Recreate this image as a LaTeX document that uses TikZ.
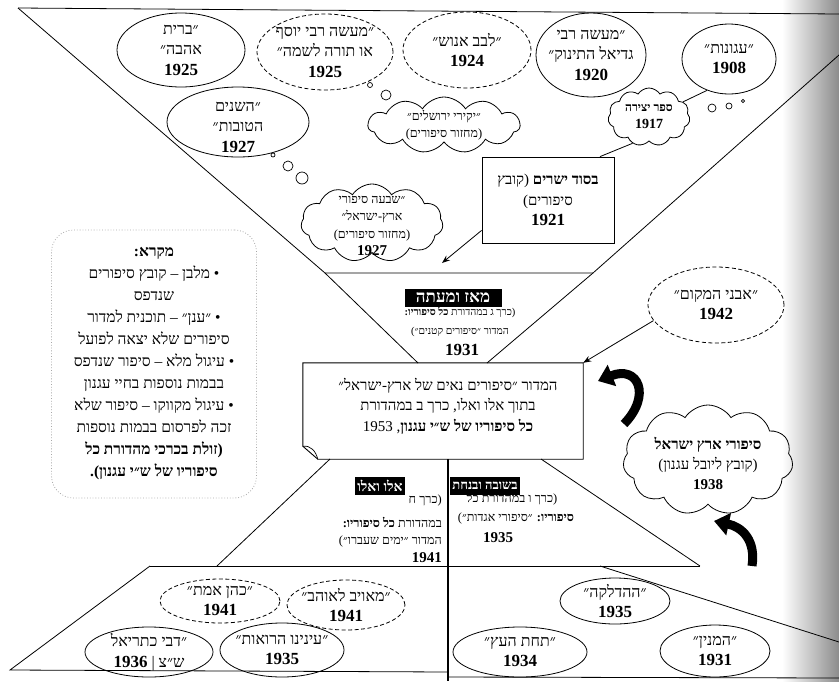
\documentclass[tikz,border=0pt]{standalone}
\usepackage{fontspec}
\setmainfont{Liberation Serif}
\newfontfamily\heb[Script=Hebrew]{Liberation Serif}
\usetikzlibrary{shapes.geometric,shapes.symbols,arrows.meta}
\TeXXeTstate=1
\newcommand\R[1]{\beginR #1\endR}
\newcommand\fs[2]{\fontsize{#1}{#2}\selectfont}
\newcommand\yr[1]{{\bfseries\fontsize{17}{20}\selectfont #1}}
\begin{document}
\begin{tikzpicture}[x=1pt,y=-1pt,
  ln/.style={line width=0.8pt},
  ell/.style={draw, ellipse, line width=0.8pt, inner sep=0},
  dell/.style={ell, dash pattern=on 4pt off 2.5pt},
  cld/.style={draw, cloud, cloud puffs=11, cloud puff arc=115, cloud ignores aspect, line width=0.8pt, inner sep=0},
  txt/.style={font=\heb\fs{16}{20.5}, align=center, inner sep=0},
  sm/.style={font=\heb\fs{12.5}{17.5}, align=center, inner sep=0},
  tiny/.style={font=\heb\fs{10.5}{19}, align=center, inner sep=0},
  mid/.style={font=\heb\fs{12.5}{20}, inner sep=0},
  lab/.style={fill=black, text=white, font=\heb\bfseries\fs{14}{16}, inner sep=0, minimum height=18},
  arr/.style={line width=0.8pt, -{Stealth[length=8pt,width=6pt]}},
  fat/.style={line width=9pt, -{Triangle[length=15pt,width=22pt]}},
  bub/.style={line width=0.7pt}
]
\useasboundingbox (0,0) rectangle (839,681);
\shade[left color=white,right color=black!45] (782,0) rectangle (839,681);

% frame lines
\draw[ln] (18,8) -- (839,14);
\draw[ln] (18,8) -- (325,273) -- (593,273) -- (839,55);
\draw[ln] (325,273) -- (418,363);
\draw[ln] (593,273) -- (487,363);
\draw[ln] (330,459) -- (217,566);
\draw[ln] (541,459) -- (700,566);
\draw[ln] (150,566) -- (700,566);
\draw[ln] (150,566) -- (10,670) -- (448,672);
\draw[ln] (600,566) -- (839,642);
\draw[ln] (448,677) -- (839,678);
\draw[line width=2.5pt] (448,459) -- (448,681);

% top ellipses
\node[ell, minimum width=128, minimum height=74] (brit) at (181,50) {};
\node[txt] (britT) at (brit) {\R{״ברית}\\\R{אהבה״}\\\yr{1925}};
\node[dell, minimum width=136, minimum height=76] (yosef) at (325,52) {};
\node[txt] (yosefT) at (yosef) {\R{״מעשה רבי יוסף}\\\R{או תורה לשמה״}\\\yr{1925}};
\node[dell, minimum width=128, minimum height=76] (levav) at (467,50) {};
\node[txt] (levavT) at (levav) {\R{״לבב אנוש״}\\\yr{1924}};
\node[ell, minimum width=110, minimum height=84] (gadiel) at (591,55) {};
\node[txt] (gadielT) at (gadiel) {\R{״מעשה רבי}\\\R{גדיאל התינוק״}\\\yr{1920}};
\node[ell, minimum width=94, minimum height=70] (agunot) at (729,59) {};
\node[txt] (agunotT) at (agunot) {\R{״עגונות״}\\\yr{1908}};
\node[ell, minimum width=142, minimum height=70] (shanim) at (238,122) {};
\node[txt] (shanimT) at (238,127) {\R{״השנים}\\\R{הטובות״}\\\yr{1927}};

% clouds
\node[cld, minimum width=82, minimum height=58] (yetz) at (649,117) {};
\node[sm, font=\heb\bfseries\fs{12}{17}] (yetzT) at (yetz) {\R{ספר יצירה}\\{\fs{14}{17}1917}};
\node[cld, minimum width=152, minimum height=56] (yakir) at (444,125) {};
\node[sm] (yakirT) at (yakir) {\R{״יקירי ירושלים״}\\\R{(מחזור סיפורים)}};
\node[cld, minimum width=142, minimum height=78] (shiva) at (372,223) {};
\node[sm] (shivaT) at (372,226) {\R{״שבעה סיפורי}\\\R{ארץ-ישראל״}\\\R{(מחזור סיפורים)}\\{\bfseries\fs{15}{17}1927}};

% thought bubbles
\draw[bub] (370,85) circle (2.5);
\draw[bub] (386,95) circle (5);
\draw[bub] (273,155) circle (2);
\draw[bub] (288,166) circle (5);
\draw[bub] (302,178) circle (6);
\draw[bub] (712,108) circle (4);
\draw[bub] (729,106) circle (3);
\draw[bub] (743,101) circle (1.7);

% besod box
\node[draw, line width=0.8pt, minimum width=132, minimum height=86, inner sep=0] (besod) at (548,200) {};
\node[txt, font=\heb\fs{15}{20.5}] (besodT) at (besod) {\R{\textbf{בסוד ישרים} (קובץ}\\\R{סיפורים)}\\\yr{1921}};
\draw[ln] (agunot.235) -- (yetz.24);
\draw[ln] (yetz.238) -- ([xshift=52pt]besod.north);
\coordinate (t1) at (442,263);
\draw[arr] ([yshift=13pt]besod.south west) -- (t1);

% trapezoid
\node[lab, minimum width=97, font=\heb\bfseries\fs{17}{18}] (meaz) at (453,298) {\R{מאז ומעתה}};
\node[tiny] (meazT) at (460,322) {\R{(כרך ג במהדורת \textbf{כל סיפוריו:}}\\\R{המדור ״סיפורים קטנים״)}};
\node[inner sep=0, font=\bfseries\fs{17}{20}] (meazY) at (462,350) {1931};

% central box
\node[minimum width=280, minimum height=96, inner sep=0] (box) at (443,411) {};
\draw[line width=0.9pt] (box.north west) -- (box.north east) -- (box.south east) -- ([xshift=15pt]box.south west) -- ([yshift=13pt]box.south west) -- cycle;
\draw[line width=0.7pt] ([yshift=13pt]box.south west) .. controls ([xshift=8pt,yshift=14pt]box.south west) and ([xshift=13pt,yshift=8pt]box.south west) .. ([xshift=15pt]box.south west);
\node[txt, font=\heb\fs{15}{20.5}] (boxT) at (448,406) {\R{המדור ״סיפורים נאים של ארץ-ישראל״}\\\R{בתוך אלו ואלו, כרך ב במהדורת}\\\R{\textbf{כל סיפוריו של ש״י עגנון}, 1953}};

% avne hamakom
\node[dell, minimum width=136, minimum height=76] (avne) at (716,305) {};
\node[txt] (avneT) at (avne) {\R{״אבני המקום״}\\\yr{1942}};
\draw[arr] (avne.194) -- (box.north east);

% fat arrows
\draw[fat] (624,424) .. controls (652,395) and (638,365) .. (598,381);
\draw[fat] (752,566) .. controls (756,540) and (742,527) .. (714,521);

% cloud 1938
\node[cld, minimum width=170, minimum height=110] (yovel) at (708,460) {};
\node[txt, font=\heb\fs{15}{20}] (yovelT) at (708,463) {\R{\textbf{סיפורי ארץ ישראל}}\\\R{(קובץ ליובל עגנון)}\\{\bfseries 1938}};

% legend
\node[draw=black!35, dotted, line width=0.8pt, rounded corners=22pt, minimum width=205, minimum height=268, inner sep=0] (leg) at (154,364) {};
\node[txt, font=\heb\fs{15.5}{22}] (legT) at (154,364) {\R{\textbf{מקרא:}}\\\R{• מלבן – קובץ סיפורים}\\\R{שנדפס}\\\R{• ״ענן״ – תוכנית למדור}\\\R{סיפורים שלא יצאה לפועל}\\\R{• עיגול מלא – סיפור שנדפס}\\\R{בבמות נוספות בחיי עגנון}\\\R{• עיגול מקווקו – סיפור שלא}\\\R{זכה לפרסום בבמות נוספות}\\\R{\textbf{(זולת בכרכי מהדורת כל}}\\\R{\textbf{סיפוריו של ש״י עגנון).}}};

% lower labels
\node[lab, font=\heb\bfseries\fs{14}{15}, minimum width=50] (elu) at (380,486) {\R{אלו ואלו}};
\node[lab, font=\heb\bfseries\fs{13}{15}, minimum width=60, inner xsep=2pt] (shuva) at (485,486) {\R{בשובה ובנחת}};
\node[mid, anchor=east] (elu1) at (442,500) {\R{(כרך ח}};
\node[mid, anchor=east] (elu2) at (442,522) {\R{במהדורת \textbf{כל סיפוריו:}}};
\node[mid, anchor=east] (elu3) at (442,541) {\R{המדור ״ימים שעברו״)}};
\node[mid, anchor=east, font=\bfseries\fs{15}{17}] (elu4) at (442,558) {1941};
\node[mid] (shuva1) at (512,499) {\R{(כרך ו במהדורת כל}};
\node[mid] (shuva2) at (516,518) {\R{\textbf{סיפוריו:} ״סיפורי אגדות״)}};
\node[mid, font=\bfseries\fs{15}{17}] (shuva3) at (498,538) {1935};

% bottom left ellipses
\node[dell, minimum width=120, minimum height=44] (kohen) at (220,601) {};
\node[txt] (kohenT) at (kohen) {\R{״כהן אמת״}\\\yr{1941}};
\node[dell, minimum width=118, minimum height=50] (meoyev) at (346,605) {};
\node[txt] (meoyevT) at (meoyev) {\R{״מאויב לאוהב״}\\\yr{1941}};
\node[ell, minimum width=128, minimum height=50] (katriel) at (149,652) {};
\node[txt] (katrielT) at (katriel) {\R{״דבי כתריאל}\\\R{ש״צ | \yr{1936}}};
\node[ell, minimum width=124, minimum height=54] (enenu) at (282,650) {};
\node[txt] (enenuT) at (enenu) {\R{״עינינו הרואות״}\\\yr{1935}};

% bottom right ellipses
\node[ell, minimum width=110, minimum height=46] (hadlaka) at (615,601) {};
\node[txt] (hadlakaT) at (hadlaka) {\R{״ההדלקה״}\\\yr{1935}};
\node[ell, minimum width=134, minimum height=50] (tachat) at (520,652) {};
\node[txt] (tachatT) at (tachat) {\R{״תחת העץ״}\\\yr{1934}};
\node[ell, minimum width=110, minimum height=52] (minyan) at (715,651) {};
\node[txt] (minyanT) at (minyan) {\R{״המנין״}\\\yr{1931}};
\end{tikzpicture}
\end{document}
